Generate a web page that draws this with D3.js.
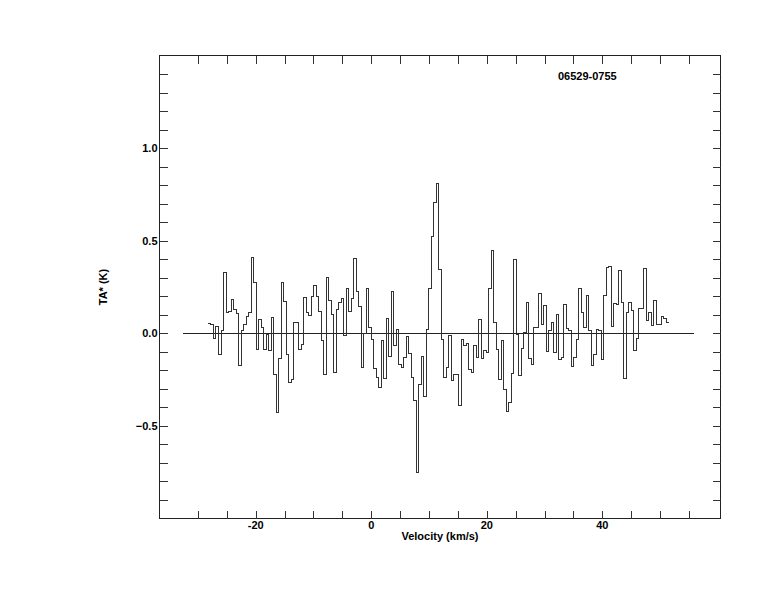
<!DOCTYPE html>
<html><head><meta charset="utf-8">
<script src="https://cdn.jsdelivr.net/npm/d3@7/dist/d3.min.js"></script>
<style>
body{margin:0;background:#fff;}
text{font-family:"Liberation Sans",Arial,Helvetica,sans-serif;font-weight:bold;font-size:11px;fill:#000;}
</style>
</head><body>
<svg id="chart" width="774" height="612"></svg>
<script>
// ---- data ----
const title = "06529-0755";
const xLabel = "Velocity (km/s)";
const yLabel = "TA* (K)";
const velocityStart = -28.17;   // left edge of first channel, km/s
const channelWidth = 0.433;     // km/s
const intensity = [
  0.055, 0.048, -0.029, 0.038, -0.115, 0.016, 0.327, 0.110, 0.120, 0.180,
  0.128, 0.106, -0.175, 0.016, 0.049, 0.092, 0.113, 0.408, 0.277, -0.086,
  0.074, 0.031, -0.086, -0.005, -0.095, 0.088, -0.223, -0.428, -0.137, 0.273,
  0.174, -0.113, -0.268, -0.250, 0.058, 0.058, -0.088, -0.061, 0.192, 0.112,
  0.097, 0.200, 0.259, 0.200, 0.119, -0.038, -0.223, 0.300, 0.178, 0.103,
  -0.212, 0.128, 0.166, 0.187, -0.011, 0.241, 0.119, 0.187, 0.403, 0.227,
  0.146, -0.185, -0.002, 0.241, 0.031, -0.034, -0.190, -0.239, -0.295, -0.040,
  -0.245, 0.079, -0.123, 0.225, -0.065, 0.020, -0.167, -0.182, -0.132, -0.018,
  -0.108, -0.236, -0.362, -0.754, -0.277, -0.124, -0.340, 0.022, 0.241, 0.523,
  0.705, 0.808, 0.344, -0.032, -0.239, -0.185, -0.014, -0.254, -0.221, -0.223,
  -0.389, -0.034, -0.065, -0.056, -0.194, -0.209, -0.065, -0.131, 0.074, -0.137,
  -0.095, -0.104, 0.241, 0.446, 0.061, -0.086, -0.248, -0.040, -0.302, -0.421,
  -0.371, -0.218, 0.398, -0.005, -0.227, -0.083, 0.004, 0.166, -0.137, -0.167,
  0.031, 0.034, 0.214, 0.050, 0.148, -0.096, 0.013, 0.061, -0.105, 0.102,
  -0.140, -0.130, 0.157, 0.025, 0.016, -0.178, -0.131, -0.034, 0.241, 0.110,
  0.031, 0.205, 0.016, -0.173, -0.113, 0.020, 0.013, -0.142, 0.205, 0.354,
  0.362, 0.038, 0.160, 0.157, 0.340, 0.164, -0.245, 0.110, 0.164, 0.124,
  -0.095, -0.029, 0.133, 0.133, 0.349, 0.067, 0.115, 0.043, 0.178, 0.049,
  0.049, 0.092, 0.079, 0.058
];
const baselineRange = [-32.6, 55.8];
const xDomain = [-36.65, 60.45];
const yDomain = [-1.0, 1.5];
const xMajorTicks = [-20, 0, 20, 40];
const xAllTicks = [-30, -25, -20, -15, -10, -5, 0, 5, 10, 15, 20, 25, 30, 35, 40, 45, 50, 55];
const yMajorTicks = [-0.5, 0.0, 0.5, 1.0];
const yAllTicks = [-0.9, -0.8, -0.7, -0.6, -0.5, -0.4, -0.3, -0.2, -0.1, 0.0, 0.1, 0.2, 0.3, 0.4, 0.5, 0.6, 0.7, 0.8, 0.9, 1.0, 1.1, 1.2, 1.3, 1.4];

// ---- layout ----
const L = 159.5, R = 720.5, T = 55.5, B = 518.5, tickLen = 8;
const svg = d3.select("#chart");
const x = d3.scaleLinear().domain(xDomain).range([L, R]);
const y = d3.scaleLinear().domain(yDomain).range([B, T]);

// frame
svg.append("rect").attr("x", L).attr("y", T).attr("width", R - L).attr("height", B - T)
  .attr("fill", "none").attr("stroke", "#222").attr("stroke-width", 1)
  .attr("shape-rendering", "crispEdges");

// axes with inward ticks
const axStyle = g => {
  g.select(".domain").remove();
  g.selectAll("line").attr("stroke", "#333").attr("shape-rendering", "crispEdges");
  g.selectAll("text").remove();
};
svg.append("g").attr("transform", `translate(0,${B})`)
  .call(d3.axisTop(x).tickValues(xAllTicks).tickSize(tickLen)).call(axStyle);
svg.append("g").attr("transform", `translate(0,${T})`)
  .call(d3.axisBottom(x).tickValues(xAllTicks).tickSize(tickLen)).call(axStyle);
svg.append("g").attr("transform", `translate(${L},0)`)
  .call(d3.axisRight(y).tickValues(yAllTicks).tickSize(tickLen)).call(axStyle);
svg.append("g").attr("transform", `translate(${R},0)`)
  .call(d3.axisLeft(y).tickValues(yAllTicks).tickSize(tickLen)).call(axStyle);

// tick labels
const fmtY = d3.format(".1f");
svg.append("g").selectAll("text").data(xMajorTicks).join("text")
  .attr("x", d => x(d)).attr("y", 529).attr("text-anchor", "middle").text(d => d);
svg.append("g").selectAll("text").data(yMajorTicks).join("text")
  .attr("x", L - 2).attr("y", d => y(d)).attr("dy", "0.35em").attr("text-anchor", "end")
  .text(d => fmtY(d).replace("-0.0", "0.0"));

// axis titles
svg.append("text").attr("x", (L + R) / 2).attr("y", 540).attr("text-anchor", "middle").text(xLabel);
svg.append("text").attr("transform", `translate(107,${(T + B) / 2}) rotate(-90)`)
  .attr("text-anchor", "middle").text(yLabel);
svg.append("text").attr("x", 558).attr("y", 80).text(title);

// baseline
svg.append("line").attr("x1", x(baselineRange[0])).attr("x2", x(baselineRange[1]))
  .attr("y1", y(0)).attr("y2", y(0))
  .attr("stroke", "#222").attr("stroke-width", 1).attr("shape-rendering", "crispEdges");

// spectrum histogram
const pts = intensity.map((v, i) => [velocityStart + i * channelWidth, v]);
pts.push([velocityStart + intensity.length * channelWidth, intensity[intensity.length - 1]]);
const line = d3.line().x(d => x(d[0])).y(d => y(d[1])).curve(d3.curveStepAfter);
svg.append("path").datum(pts).attr("d", line).attr("fill", "none")
  .attr("stroke", "#333").attr("stroke-width", 1).attr("shape-rendering", "crispEdges");
</script>
</body></html>
